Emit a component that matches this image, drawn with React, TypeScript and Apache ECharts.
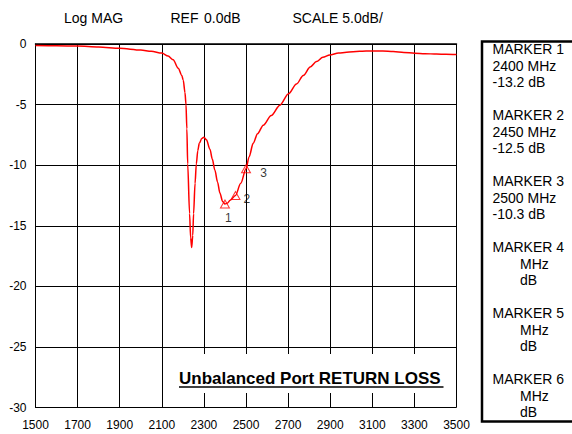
import React, { useEffect, useRef } from 'react';
import * as echarts from 'echarts';

// Trace: frequency (MHz) and return loss (dB)
const freqMHz = [
  1500, 1600, 1700, 1800, 1900, 2000, 2050, 2100, 2130, 2154, 2178, 2195, 2202, 2210,
  2215, 2219, 2223, 2232, 2237, 2242, 2247, 2251, 2258, 2264, 2271, 2278, 2290, 2300,
  2312, 2329, 2340, 2352, 2365, 2376, 2389, 2400, 2410, 2425, 2450, 2475, 2500, 2515,
  2534, 2555, 2582, 2620, 2661, 2702, 2740, 2772, 2805, 2835, 2865, 2898, 2940, 2978,
  3040, 3101, 3150, 3199, 3250, 3301, 3350, 3405, 3450, 3500,
];
const returnLossDb = [
  -0.12, -0.14, -0.17, -0.25, -0.36, -0.5, -0.6, -0.75, -1.0, -1.3, -2.0, -2.6, -3.0, -4.0,
  -5.0, -7.0, -9.9, -14.0, -16.0, -16.8, -15.8, -14.0, -11.5, -9.9, -8.8, -8.2, -7.8, -7.7,
  -7.9, -8.7, -9.5, -10.4, -11.4, -12.3, -13.0, -13.2, -13.15, -12.9, -12.5, -11.5, -10.3, -9.3,
  -8.2, -7.4, -6.7, -5.9, -5.05, -4.1, -3.3, -2.6, -1.9, -1.45, -1.1, -0.9, -0.75, -0.68,
  -0.6, -0.57, -0.58, -0.62, -0.7, -0.76, -0.8, -0.83, -0.85, -0.87,
];

// Markers
const markerIds = ['1', '2', '3'];
const markerFreqs = [2400, 2450, 2500];
const markerValues = [-13.2, -12.5, -10.3];

// Axes
const xMin = 1500;
const xMax = 3500;
const xStep = 200;
const yMin = -30;
const yMax = 0;
const yStep = 5;

// Texts
const headerTexts = ['Log MAG', 'REF', '0.0dB', 'SCALE 5.0dB/'];
const chartTitle = 'Unbalanced Port RETURN LOSS';
const panelNames = ['MARKER 1', 'MARKER 2', 'MARKER 3', 'MARKER 4', 'MARKER 5', 'MARKER 6'];
const panelFreqs = ['2400', '2450', '2500', '', '', ''];
const panelDbs = ['-13.2', '-12.5', '-10.3', '', '', ''];

const FONT = "'Liberation Sans', Arial, Helvetica, sans-serif";

export default function App() {
  const ref = useRef<HTMLDivElement>(null);

  useEffect(() => {
    if (!ref.current) return;
    const chart = echarts.init(ref.current, undefined, { renderer: 'svg' });

    const headerX = [64, 170.5, 204, 292.5];
    const graphics: any[] = [];
    headerTexts.forEach((t, i) => {
      graphics.push({
        type: 'text',
        x: headerX[i],
        y: 17.5,
        style: { text: t, fontSize: 14, fontFamily: FONT, fill: '#000', verticalAlign: 'middle', align: 'left' },
      });
    });

    // title box
    graphics.push({
      type: 'rect',
      z: 50,
      shape: { x: 170, y: 354, width: 285.5, height: 39 },
      style: { fill: '#fff' },
    });
    graphics.push({
      type: 'text',
      z: 51,
      x: 179,
      y: 378.5,
      style: { text: chartTitle, fontSize: 17, fontWeight: 'bold', fontFamily: FONT, fill: '#000', verticalAlign: 'middle' },
    });
    graphics.push({
      type: 'line',
      z: 51,
      shape: { x1: 179, y1: 387, x2: 443.5, y2: 387 },
      style: { stroke: '#000', lineWidth: 1.5 },
    });

    // marker panel
    graphics.push({
      type: 'polyline',
      shape: { points: [[580, 41.5], [482, 41.5], [482, 421.5], [580, 421.5]] },
      style: { stroke: '#000', lineWidth: 2.5, fill: 'none' },
    });
    panelNames.forEach((n, g) => {
      const y0 = 49 + g * 66;
      graphics.push({
        type: 'text', x: 492.5, y: y0,
        style: { text: n, fontSize: 14, fontFamily: FONT, fill: '#000', verticalAlign: 'middle' },
      });
      const f = panelFreqs[g];
      const d = panelDbs[g];
      graphics.push({
        type: 'text', x: f ? 492.5 : 520, y: y0 + 16.5,
        style: { text: f ? `${f} MHz` : 'MHz', fontSize: 14, fontFamily: FONT, fill: '#000', verticalAlign: 'middle' },
      });
      graphics.push({
        type: 'text', x: d ? 492.5 : 520, y: y0 + 33,
        style: { text: d ? `${d} dB` : 'dB', fontSize: 14, fontFamily: FONT, fill: '#000', verticalAlign: 'middle' },
      });
    });

    const labelPos: number[][] = [[8.5, 19], [16.5, 8], [22.5, 8.5]];

    chart.setOption({
      animation: false,
      backgroundColor: '#fff',
      grid: { left: 35.5, right: 115.5, top: 44, bottom: 26.5, containLabel: false },
      xAxis: {
        type: 'value',
        min: 0,
        max: xMax - xMin,
        interval: xStep,
        axisLine: { show: true, lineStyle: { color: '#000', width: 1.5 } },
        axisTick: { show: false },
        axisLabel: {
          color: '#000', fontSize: 12, fontFamily: FONT, margin: 11,
          formatter: (v: number) => String(v + xMin),
        },
        splitLine: { show: true, lineStyle: { color: '#000', width: 1 } },
      },
      yAxis: {
        type: 'value',
        min: yMin,
        max: yMax,
        interval: yStep,
        axisLine: { show: true, lineStyle: { color: '#000', width: 1 } },
        axisTick: { show: false },
        axisLabel: { color: '#000', fontSize: 12, fontFamily: FONT, margin: 9 },
        splitLine: { show: true, lineStyle: { color: '#000', width: 1 } },
      },
      series: [
        {
          type: 'line',
          data: freqMHz.map((f, i) => [f - xMin, returnLossDb[i]]),
          showSymbol: false,
          smooth: 0.3,
          smoothMonotone: 'x',
          lineStyle: { color: '#ff0000', width: 1.5 },
          z: 3,
        },
        {
          type: 'scatter',
          symbol: 'triangle',
          symbolSize: [9, 8],
          itemStyle: { color: 'rgba(255,255,255,0)', borderColor: '#ff0000', borderWidth: 1 },
          data: markerFreqs.map((f, i) => ({
            value: [f - xMin, markerValues[i]],
            label: {
              show: true,
              formatter: markerIds[i],
              position: labelPos[i],
              align: 'center',
              verticalAlign: 'middle',
              color: '#000',
              fontSize: 12,
              fontFamily: FONT,
            },
          })),
          z: 4,
        },
      ],
      graphic: graphics,
    });

    return () => chart.dispose();
  }, []);

  return (
    <div
      ref={ref}
      style={{ position: 'fixed', left: 0, top: 0, width: 572, height: 434, background: '#fff' }}
    />
  );
}
